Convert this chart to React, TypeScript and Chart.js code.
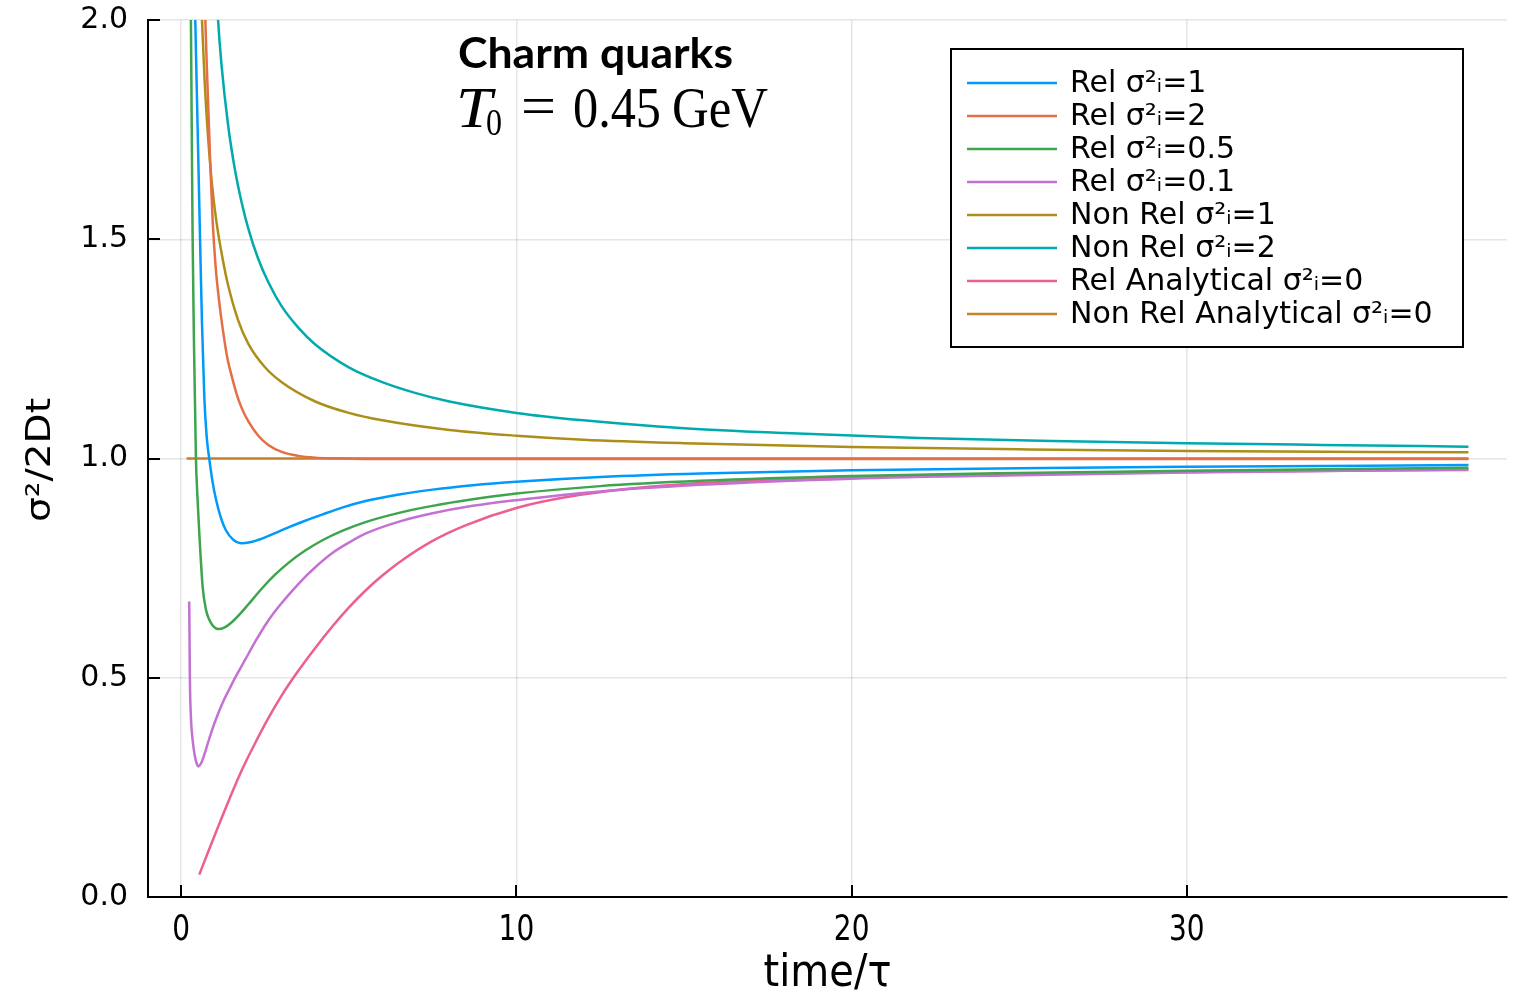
import React, { useEffect, useRef } from "react";
import { Chart, registerables } from "chart.js";

Chart.register(...registerables);

// ---- axis ticks ----
const xTicks = [0, 10, 20, 30];
const yTicks = [0, 0.5, 1.0, 1.5, 2.0];

// ---- series (time/τ , σ²/2Dt) ----
const relSig1T = [0.40, 0.42, 0.46, 0.50, 0.56, 0.62, 0.69, 0.76, 0.84, 0.94, 1.04, 1.18, 1.33, 1.55, 1.78, 2.05, 2.43, 2.8, 3.2, 3.7, 4.2, 4.8, 5.5, 6.5, 7.5, 8.7, 10, 12.5, 15.5, 20, 25, 30, 38.4];
const relSig1Y = [2.08, 2.0, 1.86, 1.72, 1.51, 1.31, 1.14, 1.05, 0.998, 0.945, 0.906, 0.866, 0.837, 0.815, 0.807, 0.809, 0.818, 0.830, 0.843, 0.858, 0.872, 0.888, 0.903, 0.918, 0.929, 0.939, 0.947, 0.958, 0.966, 0.973, 0.978, 0.981, 0.985];

const relSig2T = [0.68, 0.72, 0.78, 0.86, 0.94, 1.03, 1.13, 1.25, 1.38, 1.5, 1.65, 1.8, 2.0, 2.3, 2.6, 3.0, 3.5, 4.0, 4.5, 5.5, 12, 25, 38.4];
const relSig2Y = [2.13, 2.0, 1.86, 1.69, 1.54, 1.435, 1.36, 1.29, 1.228, 1.19, 1.148, 1.116, 1.085, 1.052, 1.031, 1.015, 1.006, 1.002, 1.0005, 0.999, 0.999, 0.999, 0.999];

const relSig05T = [0.27, 0.29, 0.31, 0.34, 0.38, 0.42, 0.44, 0.48, 0.54, 0.64, 0.74, 0.84, 0.96, 1.11, 1.3, 1.5, 1.75, 2.0, 2.4, 2.8, 3.2, 3.7, 4.2, 4.8, 5.5, 6.5, 7.5, 8.7, 10, 12.5, 15.5, 20, 25, 30, 38.4];
const relSig05Y = [2.12, 2.0, 1.8, 1.51, 1.27, 1.09, 1.0, 0.92, 0.83, 0.708, 0.655, 0.632, 0.617, 0.611, 0.615, 0.626, 0.645, 0.667, 0.703, 0.735, 0.762, 0.790, 0.813, 0.835, 0.855, 0.876, 0.892, 0.907, 0.920, 0.937, 0.949, 0.960, 0.967, 0.972, 0.979];

const relSig01T = [0.24, 0.25, 0.26, 0.29, 0.34, 0.40, 0.46, 0.52, 0.6, 0.7, 0.84, 1.0, 1.23, 1.45, 1.63, 1.9, 2.23, 2.55, 2.93, 3.52, 4.0, 4.52, 5.0, 5.51, 6.5, 7.5, 8.7, 10, 12.5, 15.5, 20, 25, 30, 38.4];
const relSig01Y = [0.674, 0.58, 0.495, 0.41, 0.359, 0.325, 0.305, 0.298, 0.306, 0.327, 0.362, 0.398, 0.442, 0.476, 0.503, 0.540, 0.585, 0.625, 0.664, 0.716, 0.752, 0.785, 0.808, 0.829, 0.856, 0.875, 0.892, 0.905, 0.925, 0.940, 0.954, 0.962, 0.968, 0.975];

const nonRelSig1T = [0.60, 0.62, 0.7, 0.8, 0.9, 1.0, 1.1, 1.25, 1.4, 1.7, 2.0, 2.5, 3.0, 4.0, 5.0, 6.0, 8.0, 10, 12, 15, 20, 25, 30, 38.4];
const nonRelSig1Y = [2.04, 2.0, 1.86, 1.735, 1.64, 1.57, 1.515, 1.45, 1.395, 1.315, 1.262, 1.208, 1.174, 1.130, 1.104, 1.087, 1.065, 1.052, 1.043, 1.035, 1.026, 1.021, 1.017, 1.014];

const nonRelSig2T = [1.05, 1.1, 1.2, 1.4, 1.6, 1.8, 2.0, 2.3, 2.6, 3.0, 3.5, 4, 5, 6, 7, 8, 10, 12, 15, 18, 22, 26, 30, 34, 38.4];
const nonRelSig2Y = [2.07, 2.0, 1.90, 1.76, 1.66, 1.585, 1.525, 1.455, 1.402, 1.347, 1.298, 1.260, 1.208, 1.174, 1.149, 1.130, 1.104, 1.087, 1.069, 1.058, 1.047, 1.040, 1.035, 1.031, 1.027];

const relAnaT = [0.54, 0.8, 1.1, 1.43, 1.8, 2.2, 2.6, 3.0, 3.42, 4.0, 4.52, 5.0, 5.5, 6.0, 6.5, 7.5, 8.5, 10, 11.5, 13.5, 15.5, 20, 25, 30, 38.4];
const relAnaY = [0.051, 0.102, 0.160, 0.222, 0.288, 0.350, 0.408, 0.460, 0.508, 0.568, 0.618, 0.660, 0.699, 0.733, 0.763, 0.812, 0.848, 0.887, 0.912, 0.932, 0.944, 0.957, 0.964, 0.969, 0.974];

const nonRelAnaT = [0.16, 38.4];
const nonRelAnaY = [1.0, 1.0];

const seriesLabels = [
  "Rel σ²ᵢ=1",
  "Rel σ²ᵢ=2",
  "Rel σ²ᵢ=0.5",
  "Rel σ²ᵢ=0.1",
  "Non Rel σ²ᵢ=1",
  "Non Rel σ²ᵢ=2",
  "Rel Analytical σ²ᵢ=0",
  "Non Rel Analytical σ²ᵢ=0",
];
const seriesColors = ["#009AFA", "#E36F47", "#3EA44E", "#C371D2", "#AC8E18", "#00AAAE", "#ED5E93", "#C68225"];
const seriesT = [relSig1T, relSig2T, relSig05T, relSig01T, nonRelSig1T, nonRelSig2T, relAnaT, nonRelAnaT];
const seriesY = [relSig1Y, relSig2Y, relSig05Y, relSig01Y, nonRelSig1Y, nonRelSig2Y, relAnaY, nonRelAnaY];

const titleText = "Charm quarks";
const xTitle = "time/τ";
const yTitle = "σ²/2Dt";

function pts(t: number[], y: number[]) {
  return t.map((v, i) => ({ x: v, y: y[i] }));
}

function drawFit(ctx: CanvasRenderingContext2D, text: string, font: string, x: number, baseline: number, width: number, sy: number) {
  ctx.save();
  ctx.font = font;
  const w = ctx.measureText(text).width;
  ctx.translate(x, baseline);
  ctx.scale(width / w, sy);
  ctx.textAlign = "left";
  ctx.textBaseline = "alphabetic";
  ctx.fillText(text, 0, 0);
  ctx.restore();
}

const overlayPlugin = {
  id: "overlay",
  afterDraw(chart: any) {
    const ctx: CanvasRenderingContext2D = chart.ctx;
    const xs = chart.scales.x;
    const ys = chart.scales.y;
    const area = chart.chartArea;
    ctx.save();
    // inward ticks
    ctx.strokeStyle = "#000";
    ctx.lineWidth = 2;
    xTicks.forEach((v) => {
      const px = Math.round(xs.getPixelForValue(v));
      ctx.beginPath();
      ctx.moveTo(px, area.bottom);
      ctx.lineTo(px, area.bottom - 12);
      ctx.stroke();
    });
    yTicks.forEach((v) => {
      const py = Math.round(ys.getPixelForValue(v));
      ctx.beginPath();
      ctx.moveTo(area.left, py);
      ctx.lineTo(area.left + 12, py);
      ctx.stroke();
    });
    // x tick labels
    ctx.fillStyle = "#000";
    ctx.font = '28px "DejaVu Sans"';
    ctx.textAlign = "center";
    ctx.textBaseline = "alphabetic";
    xTicks.forEach((v) => {
      const px = xs.getPixelForValue(v);
      ctx.save();
      ctx.translate(px, 940);
      ctx.scale(1, 1.25);
      ctx.fillText(String(v), 0, 0);
      ctx.restore();
    });
    // x title
    ctx.save();
    ctx.font = '40px "DejaVu Sans"';
    ctx.translate((area.left + area.right) / 2, 986);
    ctx.scale(1, 1.1);
    ctx.fillText(xTitle, 0, 0);
    ctx.restore();
    // y title
    ctx.save();
    ctx.font = '34px "DejaVu Sans"';
    ctx.translate(50, 460);
    ctx.rotate(-Math.PI / 2);
    ctx.scale(1.15, 1);
    ctx.textAlign = "center";
    ctx.textBaseline = "alphabetic";
    ctx.fillText(yTitle, 0, 0);
    ctx.restore();

    // annotation text
    drawFit(ctx, titleText, 'bold 42px "Lato"', 458, 68, 275, 1);
    // T0 = 0.45 GeV (segments placed like the LaTeX rendering)
    const serif = '"Liberation Serif", "DejaVu Serif", serif';
    drawFit(ctx, "T", `italic 56px ${serif}`, 456, 127, 36, 1);
    drawFit(ctx, "0", `38px ${serif}`, 486, 135, 16, 1);
    drawFit(ctx, "=", `56px ${serif}`, 521, 125, 35, 1);
    drawFit(ctx, "0.45", `56px ${serif}`, 573, 127, 88, 1);
    drawFit(ctx, "GeV", `56px ${serif}`, 672, 127, 96, 1);

    // legend
    const bx = 951, by = 49, bw = 512, bh = 298;
    ctx.fillStyle = "#fff";
    ctx.fillRect(bx, by, bw, bh);
    ctx.strokeStyle = "#000";
    ctx.lineWidth = 2;
    ctx.strokeRect(bx, by, bw, bh);
    ctx.font = '30px "DejaVu Sans"';
    ctx.textAlign = "left";
    ctx.textBaseline = "middle";
    chart.data.datasets.forEach((ds: any, i: number) => {
      const y = 83 + 33 * i;
      ctx.strokeStyle = ds.borderColor;
      ctx.lineWidth = 2.5;
      ctx.beginPath();
      ctx.moveTo(967, y);
      ctx.lineTo(1057, y);
      ctx.stroke();
      ctx.fillStyle = "#000";
      ctx.fillText(ds.label, 1070, y + 1);
    });
    ctx.restore();
  },
};

export default function App() {
  const ref = useRef<HTMLCanvasElement>(null);
  useEffect(() => {
    document.body.style.margin = "0";
    const datasets = seriesLabels.map((label, i) => ({
      label,
      data: pts(seriesT[i], seriesY[i]),
      borderColor: seriesColors[i],
      backgroundColor: seriesColors[i],
      borderWidth: 2.5,
      pointRadius: 0,
      showLine: true,
      fill: false,
      cubicInterpolationMode: "monotone" as const,
    }));
    const chart = new Chart(ref.current!, {
      type: "scatter",
      data: { datasets },
      plugins: [overlayPlugin],
      options: {
        animation: false,
        responsive: false,
        devicePixelRatio: 1,
        layout: { padding: { left: 0, top: 20, right: 12, bottom: 0 } },
        plugins: { legend: { display: false }, tooltip: { enabled: false } },
        scales: {
          x: {
            type: "linear",
            min: -0.99,
            max: 39.55,
            afterBuildTicks: (s: any) => {
              s.ticks = xTicks.map((v) => ({ value: v }));
            },
            afterFit: (s: any) => {
              s.height = 98;
              s.paddingLeft = 0;
              s.paddingRight = 0;
            },
            ticks: { display: false },
            grid: { color: "rgba(0,0,0,0.1)", lineWidth: 1.5, drawTicks: false },
            border: { display: true, color: "#000", width: 2 },
          },
          y: {
            type: "linear",
            min: 0,
            max: 2,
            afterBuildTicks: (s: any) => {
              s.ticks = yTicks.map((v) => ({ value: v }));
            },
            afterFit: (s: any) => {
              s.width = 148;
              s.paddingTop = 0;
              s.paddingBottom = 0;
            },
            ticks: {
              color: "#000",
              padding: 20,
              font: { family: "DejaVu Sans", size: 30 },
              callback: (v: any) => Number(v).toFixed(1),
            },
            grid: { color: "rgba(0,0,0,0.1)", lineWidth: 1.5, drawTicks: false },
            border: { display: true, color: "#000", width: 2 },
          },
        },
      },
    });
    return () => chart.destroy();
  }, []);
  return (
    <div style={{ width: 1519, height: 995 }}>
      <canvas ref={ref} width={1519} height={995} style={{ display: "block" }} />
    </div>
  );
}
